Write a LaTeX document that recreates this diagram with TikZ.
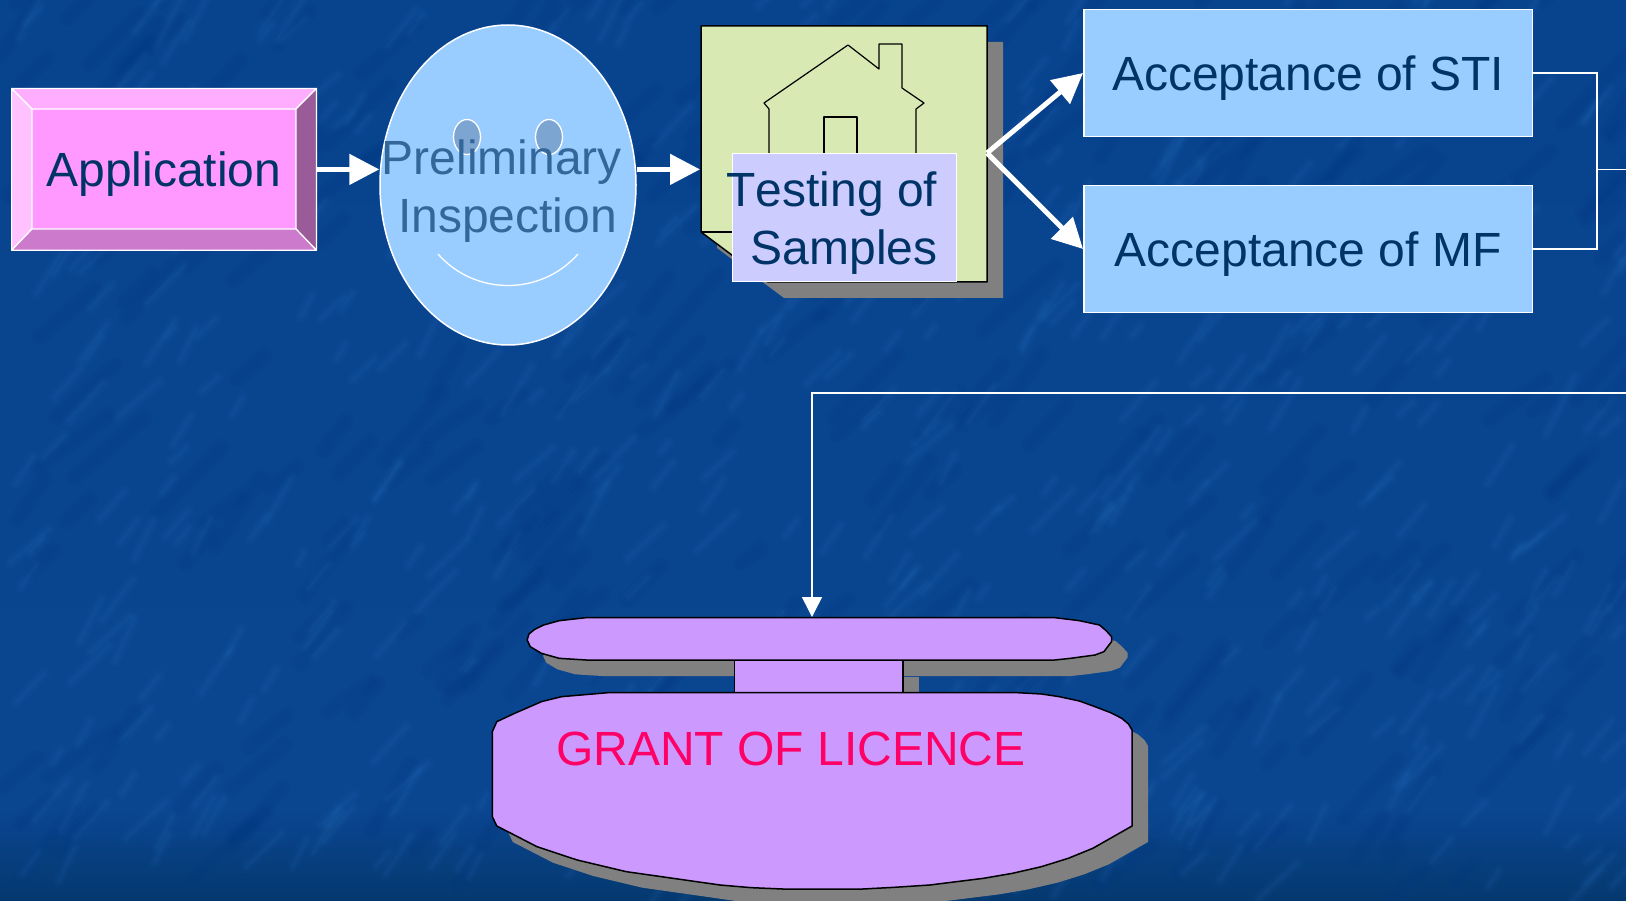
\documentclass[tikz,border=0pt]{standalone}
\usepackage{fontspec}
\setmainfont{Liberation Sans}
\usetikzlibrary{arrows.meta,shapes.geometric,calc}
\definecolor{bgtop}{HTML}{08438E}
\definecolor{bgmid}{HTML}{0A4590}
\definecolor{bgbot}{HTML}{04396F}
\definecolor{streak}{HTML}{3E86D6}
\definecolor{streakdk}{HTML}{03367F}
\definecolor{ink}{HTML}{003366}
\definecolor{inkmuted}{HTML}{336699}
\definecolor{skyfill}{HTML}{99CCFF}
\definecolor{eyefill}{HTML}{7CA6D1}
\definecolor{pinkface}{HTML}{FF99FF}
\definecolor{pinktop}{HTML}{FFADFF}
\definecolor{pinkleft}{HTML}{FFC2FF}
\definecolor{pinkright}{HTML}{995C99}
\definecolor{pinkbottom}{HTML}{CC7ACC}
\definecolor{notefill}{HTML}{D9E9B3}
\definecolor{labelfill}{HTML}{CCCCFF}
\definecolor{shadowgrey}{HTML}{808080}
\definecolor{lilac}{HTML}{CC99FF}
\definecolor{granttext}{HTML}{FF0066}
\tikzset{
  bigtext/.style={font=\fontsize{48}{57}\selectfont,text=ink},
  whitebox/.style={draw=white,line width=1.8pt,inner sep=0pt},
  acceptbox/.style={whitebox,fill=skyfill,minimum width=448.5pt,minimum height=127pt,bigtext,text height=36pt,text depth=0pt},
  bevel/.style={draw=white,line width=1.2pt,line join=round},
  flowarrow/.style={draw=white,line width=5pt,-{Triangle[length=30pt,width=30pt]}},
  forkarrow/.style={draw=white,line width=5pt,-{Triangle[length=30pt,width=30pt]}},
  thinline/.style={draw=white,line width=1.5pt},
  blackline/.style={draw=black,line width=1.5pt,line join=round},
  eyeball/.style={ellipse,draw=white,line width=1.3pt,fill=eyefill,minimum width=27pt,minimum height=35pt,inner sep=0pt}
}
\begin{document}
\begin{tikzpicture}[x=1pt,y=-1pt]
\useasboundingbox (0,0) rectangle (1626,901);
\clip (0,0) rectangle (1626,901);
% textured background
\fill[top color=bgtop,bottom color=bgmid] (0,0) rectangle (1626,810);
\fill[top color=bgmid,bottom color=bgbot] (0,810) rectangle (1626,901);
\pgfmathsetseed{11}
\foreach \i in {1,...,280}{
  \pgfmathsetmacro\sx{rnd*1626}
  \pgfmathsetmacro\sy{rnd*901}
  \pgfmathsetmacro\sl{20+rnd*80}
  \pgfmathsetmacro\sa{35+rnd*25}
  \draw[streakdk,opacity=.10,line width=16pt,line cap=round] (\sx,\sy) -- ++(-\sa:\sl);
  \draw[streakdk,opacity=.10,line width=8pt,line cap=round] (\sx,\sy) -- ++(-\sa:\sl);
}
\foreach \i in {1,...,520}{
  \pgfmathsetmacro\sx{rnd*1626}
  \pgfmathsetmacro\sy{rnd*901}
  \pgfmathsetmacro\sl{12+rnd*45}
  \pgfmathsetmacro\sa{40+rnd*25}
  \draw[streak,opacity=.035,line width=12pt,line cap=round] (\sx,\sy) -- ++(-\sa:\sl);
  \draw[streak,opacity=.04,line width=7pt,line cap=round] (\sx,\sy) -- ++(-\sa:\sl);
  \draw[streak,opacity=.05,line width=3pt,line cap=round] (\sx,\sy) -- ++(-\sa:\sl);
}

% Application
\node[draw=white,line width=1.8pt,fill=pinkface,inner sep=0pt,minimum width=303pt,minimum height=160pt,bigtext,text height=35pt,text depth=0pt] (app) at (164,169.4) {Application};
\coordinate (appiNW) at (32,109);
\coordinate (appiNE) at (296,109);
\coordinate (appiSE) at (296,229);
\coordinate (appiSW) at (32,229);
\filldraw[bevel,fill=pinktop] (app.north west) -- (app.north east) -- (appiNE) -- (appiNW) -- cycle;
\filldraw[bevel,fill=pinkleft] (app.north west) -- (appiNW) -- (appiSW) -- (app.south west) -- cycle;
\filldraw[bevel,fill=pinkright] (app.north east) -- (app.south east) -- (appiSE) -- (appiNE) -- cycle;
\filldraw[bevel,fill=pinkbottom] (app.south west) -- (appiSW) -- (appiSE) -- (app.south east) -- cycle;

% Smiley
\node[ellipse,draw=white,line width=1.5pt,fill=skyfill,minimum width=256pt,minimum height=320pt,inner sep=0pt] (face) at (508,185) {};
\node[eyeball] (eyeL) at (467,137) {};
\node[eyeball] (eyeR) at (549,137) {};
\coordinate (smileL) at (438,254);
\coordinate (smileR) at (578,254);
\draw[white,line width=1.3pt] (smileL) .. controls (475,296) and (541,296) .. (smileR);
\node[font=\fontsize{48}{58}\selectfont,text=inkmuted,align=center,inner sep=0pt] (facetext) at (507.5,191) {Preliminary\hspace*{11pt}\\Inspection};

% Note with house
\coordinate (noteNW) at (701,26);
\coordinate (noteNE) at (987,26);
\coordinate (noteSE) at (987,282);
\coordinate (noteS) at (768,282);
\coordinate (noteSW) at (701,232);
\coordinate (noteE) at (987,153);
\coordinate (noteW) at (700,169.4);
\fill[shadowgrey] ([shift={(16,16)}]noteNW) -- ([shift={(16,16)}]noteNE) -- ([shift={(16,16)}]noteSE) -- ([shift={(16,16)}]noteS) -- ([shift={(16,16)}]noteSW) -- cycle;
\filldraw[blackline,fill=notefill] (noteNW) -- (noteNE) -- (noteSE) -- (noteS) -- (noteSW) -- cycle;
\draw[blackline] (noteSW) -- (740,232);
\draw[blackline,line width=1.2pt] (769,160) -- (769,109) -- (764,103) -- (848,45) -- (879,69) -- (879,44) -- (902,44) -- (902,88) -- (924,103) -- (916,109) -- (916,160);
\draw[blackline,line width=1.2pt] (824,160) -- (824,117) -- (857,117) -- (857,160);
\node[whitebox,fill=labelfill,minimum width=224pt,minimum height=128pt] (testbox) at (844.5,217.5) {};
\node[font=\fontsize{48}{57.5}\selectfont\addfontfeatures{Kerning=Off},text=ink,align=center,inner sep=0pt] (testtext) at (844,223) {Testing of\hspace*{24pt}\\Samples};

% Acceptance boxes
\node[acceptbox] (sti) at (1308.2,73) {Acceptance of STI};
\node[acceptbox] (mf) at (1308.2,249) {Acceptance of MF};

% Licence monument
\begin{scope}[shift={(470,590)},x=0.44643pt,y=-0.33333pt]
  \def\barpath{(128,150) -- (132,132) -- (145,118) -- (165,105) -- (200,92) -- (260,83) -- (1310,83) -- (1365,92) -- (1410,105) -- (1425,122) -- (1437,140) -- (1437,155) -- (1420,185) -- (1400,195) -- (1345,205) -- (1310,210) -- (260,210) -- (200,205) -- (160,190) -- (135,170) -- cycle}
  \def\neckpath{(592,212) rectangle (970,308)}
  \def\basepath{(50,425) -- (60,395) -- (100,370) -- (160,335) -- (205,320) -- (310,308) -- (1225,308) -- (1280,312) -- (1320,320) -- (1365,333) -- (1400,350) -- (1435,368) -- (1460,385) -- (1475,402) -- (1483,420) -- (1483,708) -- (1395,775) -- (1340,805) -- (1280,830) -- (1215,850) -- (1150,865) -- (1030,885) -- (950,892) -- (880,897) -- (700,897) -- (630,893) -- (560,885) -- (350,845) -- (240,810) -- (150,770) -- (60,708) -- (50,680) -- cycle}
  \begin{scope}[xshift=16pt,yshift=-16pt]
    \fill[shadowgrey] \barpath;
    \fill[shadowgrey] \neckpath;
    \fill[shadowgrey] \basepath;
  \end{scope}
  \filldraw[blackline,fill=lilac] \neckpath;
  \filldraw[blackline,fill=lilac] \barpath;
  \filldraw[blackline,fill=lilac] \basepath;
\end{scope}
\coordinate (bartop) at (812,617);
\node[font=\fontsize{48}{57}\selectfont,text=granttext,anchor=base,inner sep=0pt] (grant) at (791,765) {GRANT OF LICENCE};

% Connectors
\draw[flowarrow] (app.east) -- (app.east -| face.west);
\draw[flowarrow] (face.east |- app.east) -- (noteW);
\draw[forkarrow] (noteE) -- (sti.west);
\draw[forkarrow] (noteE) -- (mf.west);
\coordinate (junction) at (1597,169.5);
\coordinate (exitA) at (1626,169.5);
\coordinate (exitB) at (1626,393);
\draw[thinline] (sti.east) -| (junction) |- (mf.east);
\draw[thinline] (junction) -- (exitA);
\draw[thinline,-{Triangle[length=20pt,width=20pt]}] (exitB) -| (bartop);
\end{tikzpicture}
\end{document}
